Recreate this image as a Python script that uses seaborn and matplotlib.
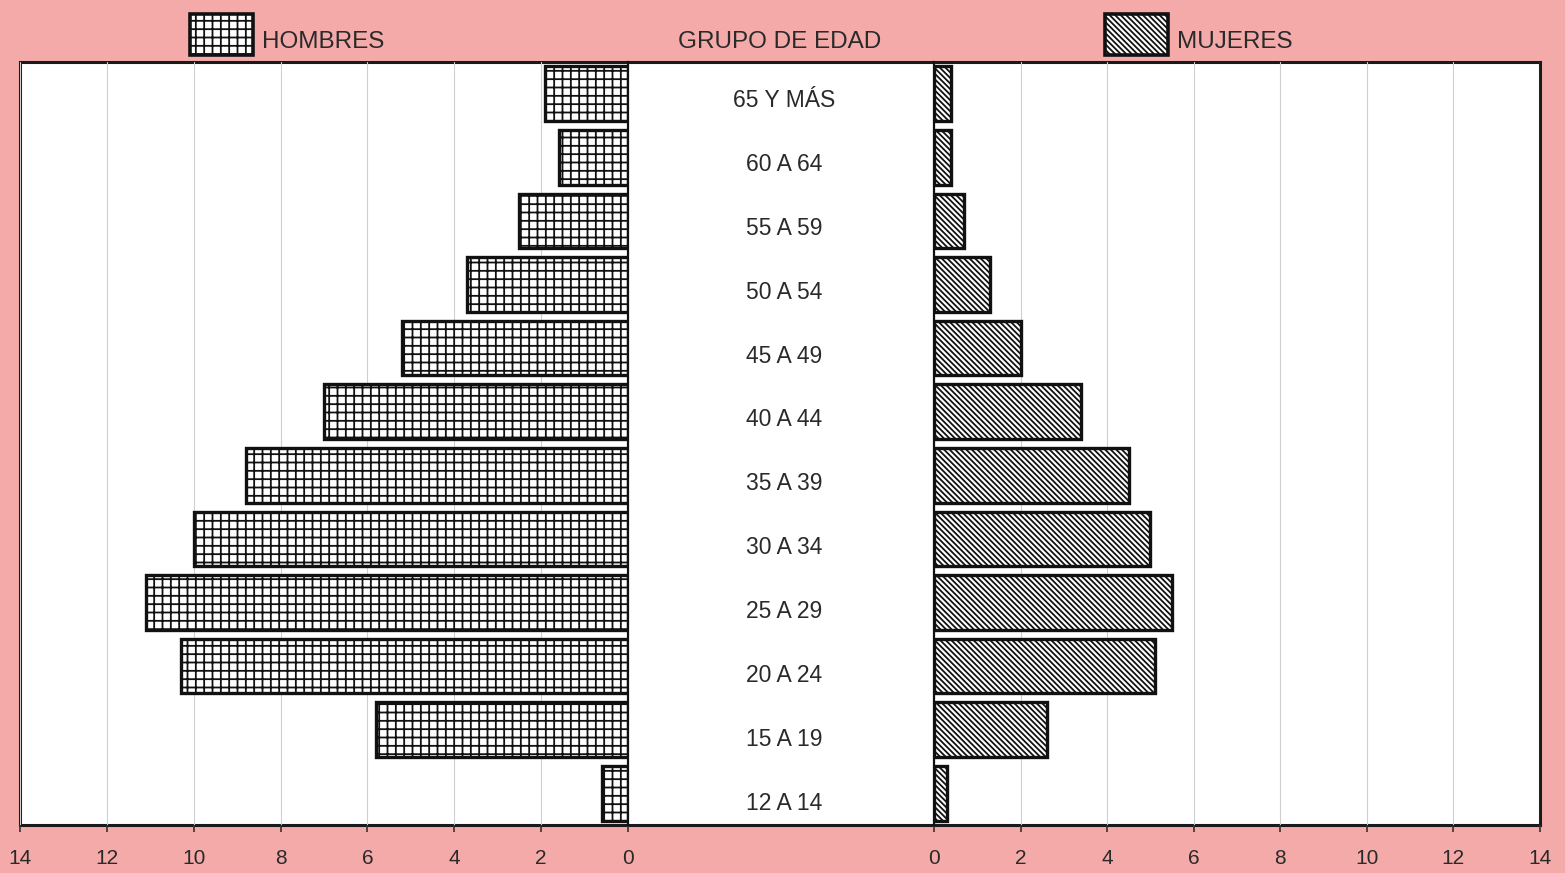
import matplotlib.pyplot as plt
import matplotlib.patches as mpatches
import seaborn as sns
import pandas as pd

# age groups, top to bottom
grupos = ['65 Y MÁS', '60 A 64', '55 A 59', '50 A 54', '45 A 49', '40 A 44',
          '35 A 39', '30 A 34', '25 A 29', '20 A 24', '15 A 19', '12 A 14']
hombres = [1.9, 1.6, 2.5, 3.7, 5.2, 7.0, 8.8, 10.0, 11.1, 10.3, 5.8, 0.6]
mujeres = [0.4, 0.4, 0.7, 1.3, 2.0, 3.4, 4.5, 5.0, 5.5, 5.1, 2.6, 0.3]
ticks = [0, 2, 4, 6, 8, 10, 12, 14]

df = pd.DataFrame({'grupo': grupos, 'hombres': hombres, 'mujeres': mujeres})

sns.set_style("white")
plt.rcParams['font.family'] = ['Liberation Sans', 'DejaVu Sans']
plt.rcParams['hatch.linewidth'] = 1.3

pink = '#F4AAA8'
txt = '#2a2a2a'
hatch_h = '++'
hatch_m = '\\' * 6

fig = plt.figure(figsize=(15.65, 8.73), dpi=100, facecolor=pink)

W, H = 1565, 873
def rect(x0, y0, x1, y1):
    return [x0 / W, 1 - y1 / H, (x1 - x0) / W, (y1 - y0) / H]

# white panel with frame
bg = fig.add_axes(rect(20, 62, 1540, 825))
bg.set_facecolor('white')
bg.set_xticks([])
bg.set_yticks([])
for s in bg.spines.values():
    s.set_linewidth(2.2)
    s.set_color('#1a1a1a')

axL = fig.add_axes(rect(20, 62, 628, 825))
axR = fig.add_axes(rect(934, 62, 1540, 825))
axM = fig.add_axes(rect(628, 62, 934, 825), sharey=axL)

for ax, col, hatch in [(axL, 'hombres', hatch_h), (axR, 'mujeres', hatch_m)]:
    sns.barplot(data=df, x=col, y='grupo', orient='h', ax=ax, color='white',
                edgecolor='#111111', linewidth=2.4, width=0.86, saturation=1)
    for p in ax.patches:
        p.set_hatch(hatch)
        p.set_facecolor('white')
    ax.patch.set_alpha(0)
    ax.set_xticks(ticks)
    ax.set_xticklabels([str(t) for t in ticks])
    ax.set_yticks([])
    ax.set_xlabel('')
    ax.set_ylabel('')
    ax.tick_params(axis='x', direction='out', length=5, width=1.2, pad=12,
                   labelsize=15, colors='#333333', bottom=True)
    ax.tick_params(axis='x', labelcolor=txt)
    ax.grid(axis='x', color='#cfcfcf', linewidth=0.8)
    ax.set_axisbelow(True)
    for s in ax.spines.values():
        s.set_visible(False)

axL.set_xlim(14, 0)
axR.set_xlim(0, 14)
axL.spines['right'].set_visible(True)
axL.spines['right'].set_linewidth(1.6)
axL.spines['right'].set_color('#111111')
axR.spines['left'].set_visible(True)
axR.spines['left'].set_linewidth(1.6)
axR.spines['left'].set_color('#111111')

# center labels (sit a little below the bar centres, as in the original)
axM.axis('off')
axM.set_xlim(0, 1)
for i, g in enumerate(grupos):
    axM.text(0.51, i + 0.1 + 0.006 * i, g, ha='center', va='center',
             fontsize=16.5, color=txt)

# header: legend keys and title
for (x0, x1, lab, hatch) in [(190, 253, 'HOMBRES', hatch_h), (1105, 1168, 'MUJERES', hatch_m)]:
    r = mpatches.Rectangle((x0 / W, 1 - 55 / H), (x1 - x0) / W, 41 / H,
                           transform=fig.transFigure, facecolor='white',
                           edgecolor='#111111', linewidth=2.6, hatch=hatch)
    fig.add_artist(r)
    fig.text((x1 + 9) / W, 1 - 42 / H, lab, ha='left', va='center',
             fontsize=17.5, color=txt)
fig.text(780 / W, 1 - 42 / H, 'GRUPO DE EDAD', ha='center', va='center',
         fontsize=17.5, color=txt)

fig.savefig('out.png', dpi=100, facecolor=pink)
